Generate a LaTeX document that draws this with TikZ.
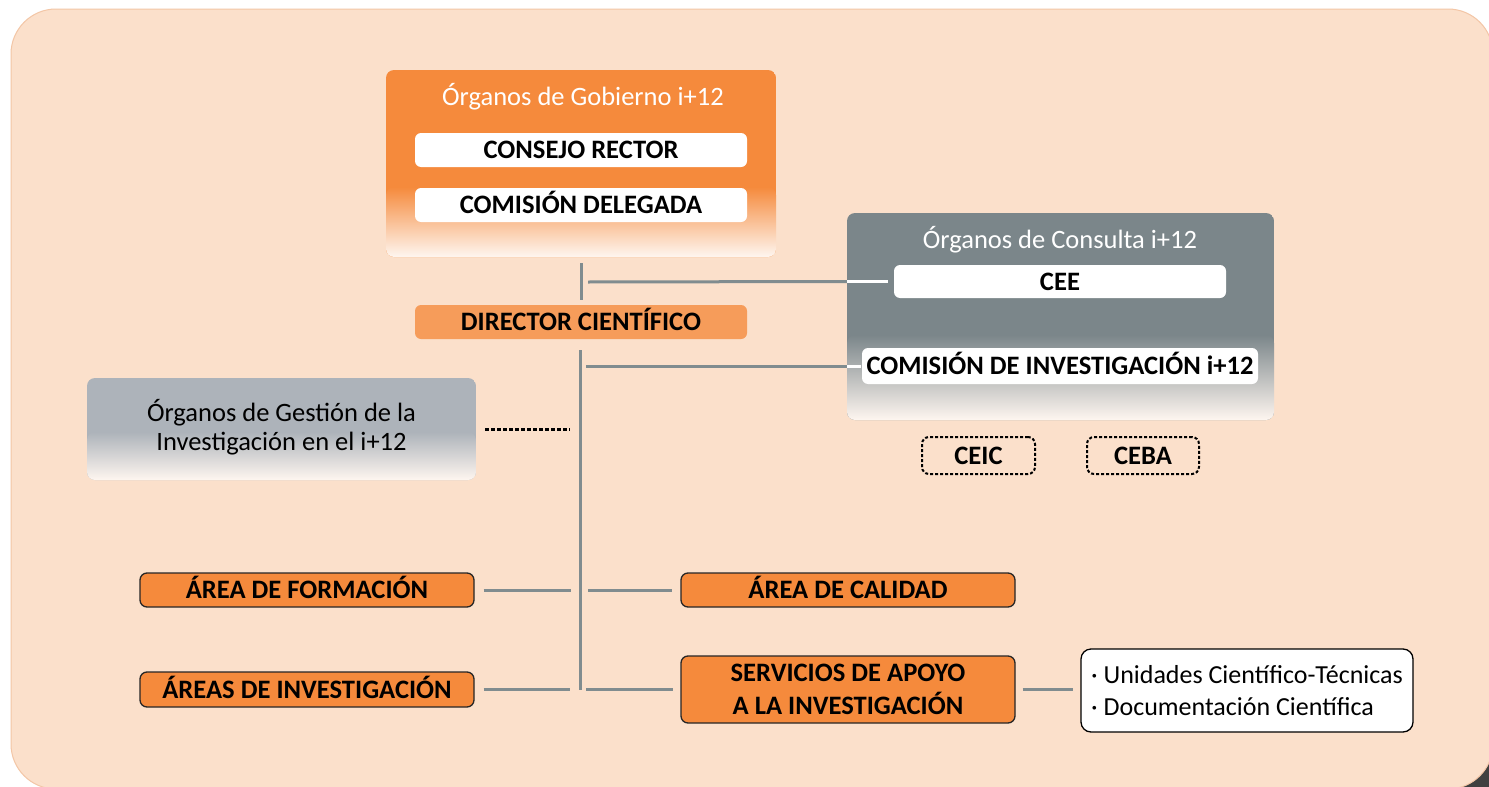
\documentclass[tikz,border=0pt]{standalone}
\usepackage{fontspec}
\setmainfont{Carlito}
\usetikzlibrary{calc}
\definecolor{bgC}{HTML}{FBE0CB}
\definecolor{bgEdge}{HTML}{F3C6A6}
\definecolor{orgA}{HTML}{F58A3C}
\definecolor{orgDir}{HTML}{F69C5A}
\definecolor{grayC}{HTML}{7B868A}
\definecolor{grayG}{HTML}{ADB3BA}
\definecolor{lineC}{HTML}{808C8F}
\definecolor{fadeW}{HTML}{FEF6F0}
\tikzset{
  fadebox/.style 2 args={draw=none, inner sep=0pt, rounded corners=8pt,
    path picture={
      \fill[#1] (path picture bounding box.south west) rectangle (path picture bounding box.north east);
      \shade[top color=#1, bottom color=fadeW]
        ([yshift=#2]path picture bounding box.south west) rectangle (path picture bounding box.south east);
    }},
  titletext/.style={text=white, font=\fontsize{26.5}{30}\selectfont, inner sep=0pt},
  capline/.style={text height=17pt, text depth=0pt},
  wbox/.style={fill=white, rounded corners=6pt, inner sep=0pt, capline, font=\fontsize{26.6}{30}\selectfont\bfseries},
  dirbox/.style={fill=orgDir, rounded corners=6pt, inner sep=0pt, capline, font=\fontsize{26.6}{30}\selectfont\bfseries},
  areabox/.style={fill=orgA, draw=black!85, line width=1.3pt, rounded corners=7pt, inner sep=0pt,
    minimum width=334pt, align=center, font=\fontsize{26.6}{30}\selectfont\bfseries},
  dotbox/.style={draw=black, line width=2pt, dash pattern=on 3pt off 2pt, rounded corners=7pt, inner sep=0pt,
    minimum height=37pt, capline, font=\fontsize{26.6}{30}\selectfont\bfseries},
  conn/.style={draw=lineC, line width=3pt},
  wconn/.style={draw=white, line width=3pt},
  dotconn/.style={draw=black, line width=3pt, dash pattern=on 4pt off 2pt},
}
\begin{document}
\begin{tikzpicture}[x=1pt,y=-1pt]
\useasboundingbox (0,0) rectangle (1489,787);
\fill[white] (0,0) rectangle (1489,787);
% shadow and background panel
\fill[black!75, rounded corners=45pt] (60,40) rectangle (1510,810);
\fill[bgC, draw=bgEdge, line width=1pt, rounded corners=45pt] (11,9) rectangle (1493,789);

% Organos de Gobierno
\node[fadebox={orgA}{70pt}, minimum width=390pt, minimum height=187pt] (gob) at (581,163.5) {};
\node[titletext] (gobT) at (583,97) {Órganos de Gobierno i+12};
\node[wbox, minimum width=332pt, minimum height=34pt] (cr) at (581,150) {CONSEJO RECTOR};
\node[wbox, minimum width=332pt, minimum height=34pt] (cd) at (581,205) {COMISIÓN DELEGADA};

% Director
\node[dirbox, minimum width=332pt, minimum height=34pt] (dir) at (581,322) {DIRECTOR CIENTÍFICO};

% Organos de Consulta
\node[fadebox={grayC}{85pt}, minimum width=427pt, minimum height=207pt] (cons) at (1060.5,316.5) {};
\node[titletext] (consT) at (1060,240) {Órganos de Consulta i+12};
\node[wbox, minimum width=332pt, minimum height=33pt] (cee) at (1060,281.5) {CEE};
\node[wbox, minimum width=396pt, minimum height=36pt] (ci) at (1060,366) {COMISIÓN DE INVESTIGACIÓN i+12};
\node[dotbox, minimum width=113pt] (ceic) at (978.5,455.5) {CEIC};
\node[dotbox, minimum width=112pt] (ceba) at (1143,455.5) {CEBA};

% Organos de Gestion
\node[fadebox={grayG}{48pt}, minimum width=389pt, minimum height=102pt] (gest) at (281.5,429) {};
\node[inner sep=0pt, align=center, font=\fontsize{26.5}{29}\selectfont] (gestT) at (281.5,427) {Órganos de Gestión de la\\Investigación en el i+12};

% Areas
\node[areabox, capline, minimum height=34pt] (af) at (307,590) {ÁREA DE FORMACIÓN};
\node[areabox, capline, minimum height=34pt] (ac) at (848,590) {ÁREA DE CALIDAD};
\node[areabox, capline, minimum height=35pt] (ai) at (307,689.5) {ÁREAS DE INVESTIGACIÓN};
\node[areabox, minimum height=67pt, font=\fontsize{26.6}{33}\selectfont\bfseries] (sa) at (848,689.5) {SERVICIOS DE APOYO\\A LA INVESTIGACIÓN};
\node[fill=white, draw=black, line width=1.3pt, rounded corners=10pt, minimum width=332pt, minimum height=83pt,
      inner sep=6pt, align=left, font=\fontsize{26}{32}\selectfont] (list) at (1247,690.5)
      {· Unidades Científico-Técnicas\\· Documentación Científica};

% junction coordinates
\coordinate (jTop) at (588,282);
\coordinate (jMid) at (586,366);
\coordinate (jDot) at (570,429);
\coordinate (jAFl) at (571,590);
\coordinate (jAFr) at (588,590);
\coordinate (jAIl) at (570,689);
\coordinate (jAIr) at (586,689);

% connectors
\draw[conn] ([yshift=-6pt]gob.south) -- ([yshift=5pt]dir.north);
\draw[conn] (jTop) -- (cons.west |- cee);
\draw[wconn] (cons.west |- cee) -- ([xshift=-6pt]cee.west);
\draw[conn] ([shift={(-1pt,-11pt)}]dir.south) -- (580,690);
\draw[conn] (jMid) -- (cons.west |- ci);
\draw[wconn] (cons.west |- ci) -- ([xshift=-1pt]ci.west);
\draw[dotconn] ([xshift=9pt]gest.east) -- (jDot);
\draw[conn] ([xshift=9pt]af.east) -- (jAFl);
\draw[conn] (jAFr) -- ([xshift=-8pt]ac.west);
\draw[conn] ([xshift=9pt]ai.east |- jAIl) -- (jAIl);
\draw[conn] (jAIr) -- ([xshift=-7pt]sa.west |- jAIr);
\draw[conn] ([xshift=7pt]sa.east) -- ([xshift=-7pt]list.west |- sa.east);
\end{tikzpicture}
\end{document}
